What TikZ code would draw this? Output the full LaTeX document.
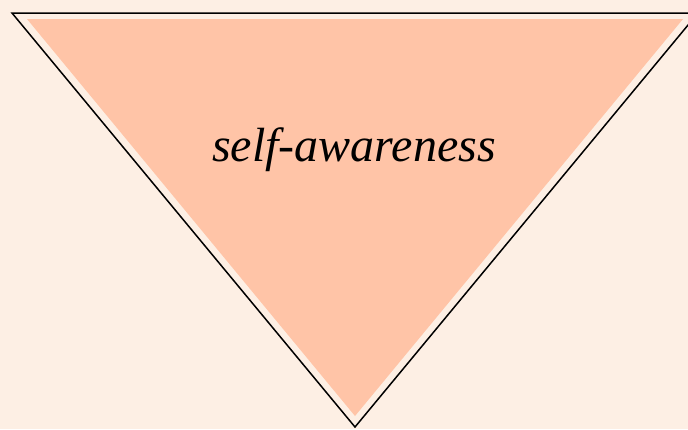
\documentclass[tikz,border=0pt]{standalone}
\usepackage{fontspec}
\setmainfont{Liberation Serif}
\usetikzlibrary{positioning}
\definecolor{bgpeach}{HTML}{FDEFE4}
\definecolor{fillpeach}{HTML}{FFC4A7}

\begin{document}
\begin{tikzpicture}[x=1pt,y=-1pt]
  % background and page size
  \fill[bgpeach] (0,0) rectangle (688,429);
  \useasboundingbox (0,0) rectangle (688,429);

  % outer triangle corners
  \coordinate (TL) at (12,13);
  \coordinate (TR) at (698,13);
  \coordinate (B) at (355,427);
  % inner (filled) triangle corners
  \coordinate (iTL) at (27,19);
  \coordinate (iTR) at (683,19);
  \coordinate (iB) at (355,416);

  \fill[fillpeach] (iTL) -- (iTR) -- (iB) -- cycle;
  \draw[line width=1.5pt,line join=miter] (TL) -- (TR) -- (B) -- cycle;

  \node (self) at (354,150) {\fontsize{48}{52}\selectfont\itshape self-awareness};
\end{tikzpicture}
\end{document}
